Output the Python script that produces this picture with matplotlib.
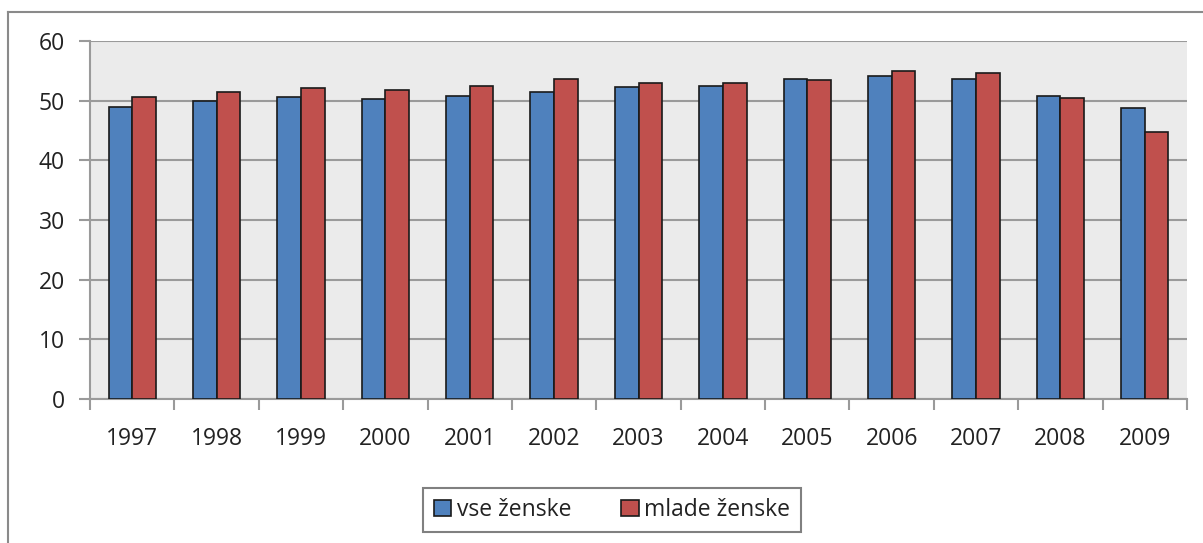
import matplotlib
matplotlib.use("Agg")
import matplotlib.pyplot as plt
from matplotlib.lines import Line2D
import numpy as np

years = ["1997", "1998", "1999", "2000", "2001", "2002", "2003",
         "2004", "2005", "2006", "2007", "2008", "2009"]
vse_zenske = [48.9, 50.0, 50.6, 50.2, 50.8, 51.5, 52.3, 52.5, 53.6, 54.2, 53.6, 50.8, 48.7]
mlade_zenske = [50.6, 51.5, 52.1, 51.8, 52.5, 53.6, 53.0, 53.0, 53.4, 54.9, 54.7, 50.4, 44.8]

plt.rcParams['font.family'] = ['Open Sans', 'DejaVu Sans']
plt.rcParams['text.color'] = '#222222'

fig = plt.figure(figsize=(12.03, 5.43), dpi=100)
ax = fig.add_axes([90 / 1203, 1 - 399 / 543, (1187 - 90) / 1203, (399 - 41) / 543])

x = np.arange(len(years))
w = 0.28
ax.bar(x - w / 2, vse_zenske, w, color="#4F81BD", edgecolor="#1a1a1a", linewidth=1.2,
       label="vse ženske", zorder=3)
ax.bar(x + w / 2, mlade_zenske, w, color="#C0504D", edgecolor="#1a1a1a", linewidth=1.2,
       label="mlade ženske", zorder=3)

ax.set_facecolor("#EBEBEB")
ax.set_xlim(-0.5, len(years) - 0.5)
ax.set_ylim(0, 60)
ax.set_yticks(range(0, 61, 10))
ax.yaxis.grid(True, color="#9a9a9a", linewidth=1.5, zorder=0)

# category labels in the middle, tick marks on the boundaries
ax.set_xticks(x)
ax.set_xticklabels(years, fontsize=16.5, color="#222222")
ax.set_xticks(np.arange(-0.5, len(years), 1), minor=True)
ax.tick_params(axis="x", which="major", length=0, pad=20)
ax.tick_params(axis="x", which="minor", length=8, width=1.5, color="#9a9a9a")
ax.tick_params(axis="y", length=8, width=1.5, color="#9a9a9a", labelsize=16.5,
               labelcolor="#222222", pad=10)

for s in ["top", "right"]:
    ax.spines[s].set_visible(False)
for s in ["left", "bottom"]:
    ax.spines[s].set_color("#9a9a9a")
    ax.spines[s].set_linewidth(1.5)

leg = ax.legend(loc="center", bbox_to_anchor=(612 / 1203, 1 - 510 / 543),
                bbox_transform=fig.transFigure, ncol=2, fontsize=16.5, frameon=True,
                fancybox=False, handlelength=0.75, handleheight=0.75, handletextpad=0.25,
                columnspacing=2.2, borderpad=0.45, borderaxespad=0)
leg.get_frame().set_edgecolor("#606060")
leg.get_frame().set_linewidth(1.5)

# outer chart border (top and left visible)
fig.add_artist(Line2D([8 / 1203, 1], [1 - 12 / 543, 1 - 12 / 543], transform=fig.transFigure,
                      color="#8a8a8a", linewidth=1.5))
fig.add_artist(Line2D([8 / 1203, 8 / 1203], [0, 1 - 12 / 543], transform=fig.transFigure,
                      color="#8a8a8a", linewidth=1.5))

plt.savefig("out.png", dpi=100)
